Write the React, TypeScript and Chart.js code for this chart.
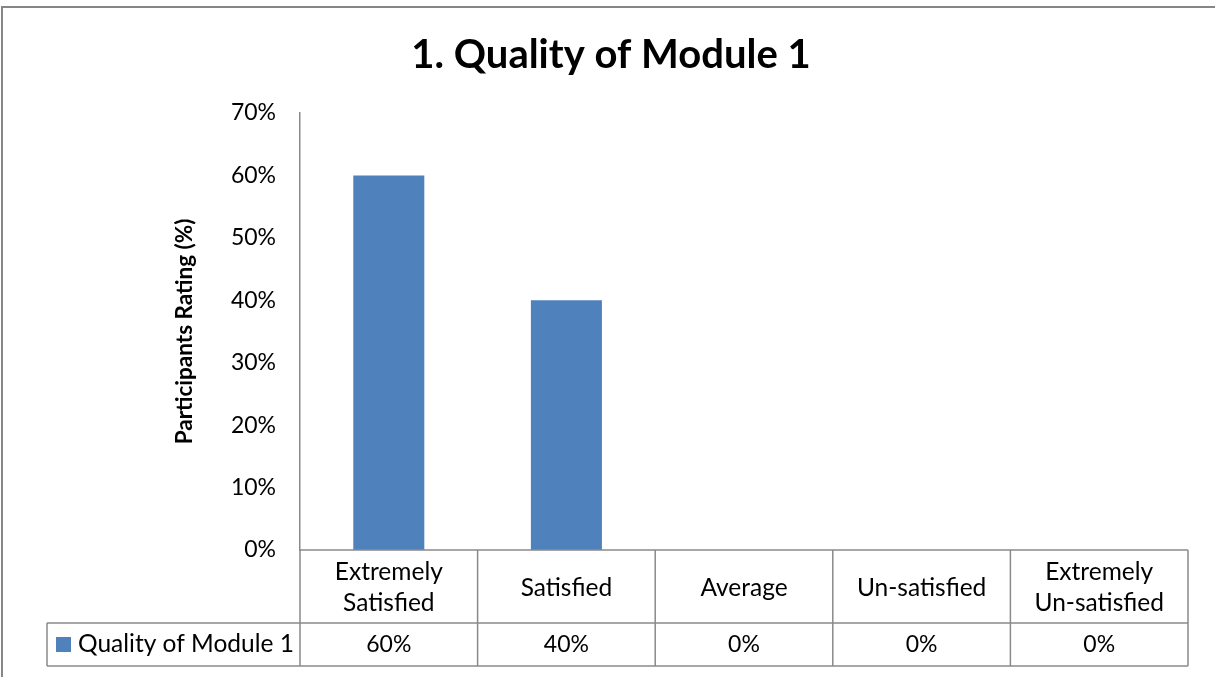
import React, { useEffect, useRef } from 'react';
import { Chart, registerables } from 'chart.js';

Chart.register(...registerables);

// ---- data ----
const categories: (string | string[])[] = [
  ['Extremely', 'Satisfied'],
  'Satisfied',
  'Average',
  'Un-satisfied',
  ['Extremely', 'Un-satisfied'],
];
const seriesName = 'Quality of Module 1';
const seriesValues = [60, 40, 0, 0, 0];
const yMax = 70;
const yStep = 10;
const chartTitle = '1. Quality of Module 1';
const yAxisTitle = 'Participants Rating (%)';

const BAR_COLOR = '#4f81bd';
const LINE_COLOR = '#8a8a8a';
const FONT = 'Lato';
const PAD_LEFT = 34;

const framePlugin = {
  id: 'frame',
  beforeDraw(chart: any) {
    const { ctx } = chart;
    ctx.save();
    ctx.fillStyle = '#ffffff';
    ctx.fillRect(0, 0, chart.width, chart.height);
    ctx.strokeStyle = '#868686';
    ctx.lineWidth = 2;
    ctx.beginPath();
    ctx.moveTo(2, chart.height + 10);
    ctx.lineTo(2, 7);
    ctx.lineTo(chart.width + 10, 7);
    ctx.stroke();
    ctx.restore();
  },
};

const tablePlugin = {
  id: 'dataTable',
  afterDraw(chart: any) {
    const { ctx, chartArea } = chart;
    const x = chart.scales.x;
    const ds = chart.data.datasets[0];
    const n = chart.data.labels.length;
    const half = (x.getPixelForValue(1) - x.getPixelForValue(0)) / 2;
    const left = chartArea.left;
    const right = chartArea.right;
    const top = chartArea.bottom;
    const rowMid = top + 73;
    const bottom = top + 116;
    const legendLeft = 47;

    ctx.save();
    ctx.strokeStyle = LINE_COLOR;
    ctx.lineWidth = 1.5;
    ctx.beginPath();
    ctx.moveTo(left, top);
    ctx.lineTo(right, top);
    ctx.moveTo(legendLeft, rowMid);
    ctx.lineTo(right, rowMid);
    ctx.moveTo(legendLeft, bottom);
    ctx.lineTo(right, bottom);
    ctx.moveTo(left, top);
    ctx.lineTo(left, bottom);
    ctx.moveTo(legendLeft, rowMid);
    ctx.lineTo(legendLeft, bottom);
    for (let i = 0; i < n; i++) {
      const xp = x.getPixelForValue(i) + half;
      ctx.moveTo(xp, top);
      ctx.lineTo(xp, bottom);
    }
    ctx.stroke();

    const cy = (rowMid + bottom) / 2;
    ctx.fillStyle = ds.backgroundColor;
    ctx.fillRect(56, cy - 7.5, 15, 15);

    ctx.fillStyle = '#000000';
    ctx.textBaseline = 'middle';
    ctx.font = `24.5px ${FONT}`;
    ctx.textAlign = 'left';
    ctx.fillText(ds.label, 78, cy);

    ctx.font = `23px ${FONT}`;
    ctx.textAlign = 'center';
    ds.data.forEach((v: number, i: number) => {
      ctx.fillText(`${v}%`, x.getPixelForValue(i), cy);
    });
    ctx.restore();
  },
};

export default function App() {
  const canvasRef = useRef<HTMLCanvasElement | null>(null);

  useEffect(() => {
    const canvas = canvasRef.current;
    if (!canvas) return;
    const chart = new Chart(canvas, {
      type: 'bar',
      data: {
        labels: categories as any,
        datasets: [
          {
            label: seriesName,
            data: seriesValues,
            backgroundColor: BAR_COLOR,
            borderWidth: 0,
            barPercentage: 0.4,
            categoryPercentage: 1.0,
          },
        ],
      },
      options: {
        responsive: false,
        animation: false,
        events: [],
        layout: { padding: { left: PAD_LEFT, right: 27, top: 0, bottom: 0 } },
        plugins: {
          legend: { display: false },
          tooltip: { enabled: false },
          title: {
            display: true,
            text: chartTitle,
            color: '#000000',
            font: { family: FONT, size: 40, weight: 'bold', lineHeight: 1.2 },
            padding: { top: 31, bottom: 34 },
          },
        },
        scales: {
          x: {
            type: 'category',
            grid: { display: false, drawTicks: false },
            border: { display: false },
            ticks: {
              color: '#000000',
              font: { family: FONT, size: 24.5, lineHeight: 31 / 24.5 },
              padding: 22.5,
              maxRotation: 0,
              minRotation: 0,
              autoSkip: false,
              crossAlign: 'center',
            },
            afterFit(scale: any) {
              scale.height = 127;
            },
          },
          y: {
            min: 0,
            max: yMax,
            grid: { display: false, drawTicks: false },
            border: { display: true, color: LINE_COLOR, width: 1.5 },
            ticks: {
              stepSize: yStep,
              color: '#000000',
              font: { family: FONT, size: 23 },
              padding: 24,
              callback: (v: any) => `${v}%`,
            },
            title: {
              display: true,
              text: yAxisTitle,
              color: '#000000',
              font: { family: FONT, size: 22.5, weight: 'bold', lineHeight: 1.2 },
              padding: { top: 185 - PAD_LEFT - 13.5, bottom: 0 },
            },
            afterFit(scale: any) {
              scale.width = 300 - PAD_LEFT;
            },
          },
        },
      },
      plugins: [framePlugin, tablePlugin],
    });
    return () => chart.destroy();
  }, []);

  return (
    <canvas
      ref={canvasRef}
      width={1215}
      height={677}
      style={{ position: 'absolute', left: 0, top: 0, display: 'block' }}
    />
  );
}
